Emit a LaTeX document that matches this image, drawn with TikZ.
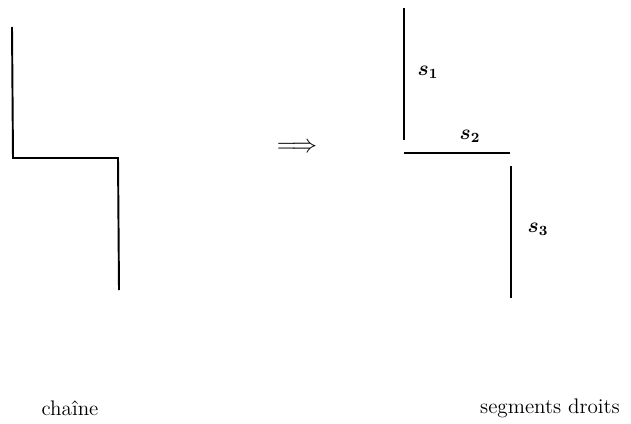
\documentclass[tikz,border=0pt]{standalone}
\usepackage{amsmath}
\usetikzlibrary{positioning}
\tikzset{
  seg/.style={line width=1.1pt, black},
  lbl/.style={inner sep=1pt, font=\large},
  captxt/.style={inner sep=0pt, font=\large}
}

\begin{document}
\begin{tikzpicture}[x=0.02cm,y=-0.02cm]
\useasboundingbox (0,0) rectangle (631,423);
% chaine
\coordinate (c0) at (12,27);
\coordinate (c1) at (13,158);
\coordinate (c2) at (118,158);
\coordinate (c3) at (119,290);
\draw[seg] (c0) -- (c1) -- (c2) -- (c3);
\node[lbl, font=\Large] (imp) at (297,148) {$\Longrightarrow$};
% segments droits
\coordinate (a0) at (404,8);
\coordinate (a1) at (404,140);
\coordinate (b0) at (404,153);
\coordinate (b1) at (510,153);
\coordinate (d0) at (511,166);
\coordinate (d1) at (511,298);
\draw[seg] (a0) -- (a1);
\draw[seg] (b0) -- (b1);
\draw[seg] (d0) -- (d1);
\node[lbl] (sa) at (428,72) {$\boldsymbol{s_1}$};
\node[lbl] (sb) at (470,136) {$\boldsymbol{s_2}$};
\node[lbl] (sc) at (538,229) {$\boldsymbol{s_3}$};
\node[captxt] (chaine) at (70,408) {chaîne};
\node[captxt] (segdroits) at (550,408) {segments droits};
\end{tikzpicture}
\end{document}
